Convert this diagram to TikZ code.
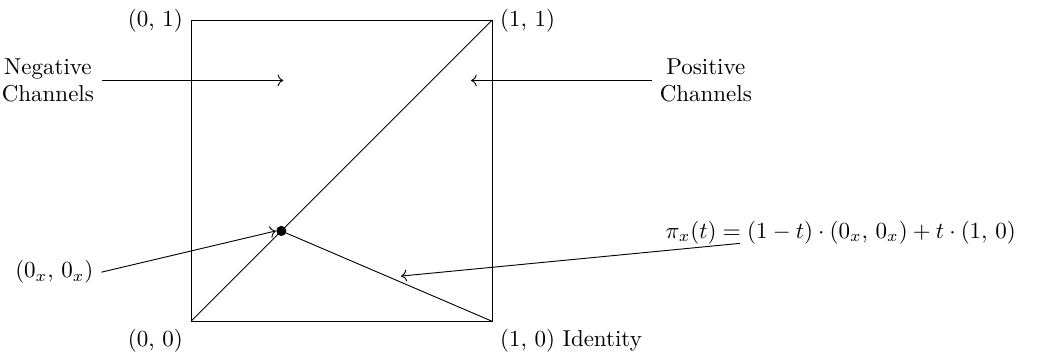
\documentclass[tikz,border=0pt]{standalone}
\usetikzlibrary{arrows.meta}

\begin{document}
\begin{tikzpicture}
        \useasboundingbox (-2.92,-0.5) rectangle (12.93,4.91);

        \draw (0,0) coordinate (A) node[below left] (lA) {(0, 0)}
        -- (4.6,0) coordinate (B) node[below right] (lB) {(1, 0) Identity}
        -- (4.6,4.6) coordinate (C) node[right] (lC) {(1, 1)}
        -- (0,4.6) coordinate (D) node[left] (lD) {(0, 1)}
        -- cycle;

        % diagonala a cesta do identity
        \draw (A) -- (C);
        \fill (1.38,1.38) coordinate (P) circle (2.2pt);
        \draw (P) -- (B);

        % kanaly
        \node[align=center, anchor=east] (neg) at (-1.36,3.68) {Negative\\Channels};
        \node[align=center, anchor=west] (pos) at (7.04,3.68) {Positive\\Channels};
        \draw[->] (neg.east) -- (1.41,3.68) coordinate (negtip);
        \draw[->] (pos.west) -- (4.28,3.68) coordinate (postip);

        % popisky
        \node (ox) at (-2.09,0.75) {$(0_x,\,0_x)$};
        \draw[->] (ox.east) -- ([xshift=-2.4pt]P);

        \node (pi) at (9.93,1.36) {$\pi_x(t) = (1 - t) \cdot (0_x,\,0_x) + t \cdot (1,\,0)$};
        \coordinate (pitail) at (8.39,1.19);
        \coordinate (pihead) at (3.21,0.69);
        \draw[->] (pitail) -- (pihead);
    \end{tikzpicture}
\end{document}
